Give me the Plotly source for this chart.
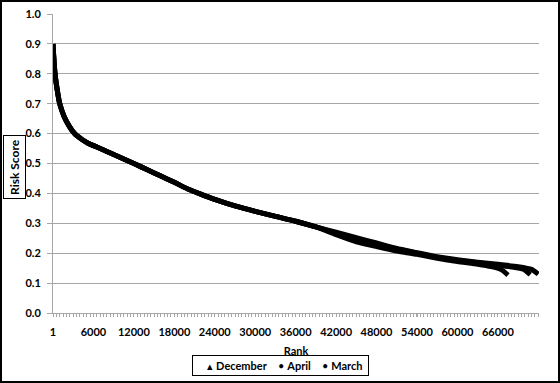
import plotly.graph_objects as go

# ---- data ----
common_rank = [1, 100, 300, 600, 1000, 1600, 2400, 3200, 4200, 5200, 6500, 8000, 10000, 12000,
               14000, 16000, 18000, 20000, 22000, 24000, 27000, 30000, 33000, 36000, 39000]
common_score = [0.90, 0.86, 0.80, 0.75, 0.70, 0.66, 0.625, 0.60, 0.582, 0.568, 0.555, 0.54, 0.52, 0.50,
                0.479, 0.458, 0.437, 0.415, 0.397, 0.38, 0.358, 0.34, 0.323, 0.307, 0.288]

dec_rank = common_rank + [42000, 45000, 48000, 51000, 54000, 57000, 60000, 63000, 65000, 66500, 67500]
dec_score = common_score + [0.262, 0.238, 0.222, 0.207, 0.196, 0.183, 0.172, 0.163, 0.155, 0.145, 0.127]

apr_rank = common_rank + [42000, 45000, 48000, 51000, 54000, 57000, 60000, 63000, 66000, 68000, 69800, 70800]
apr_score = common_score + [0.268, 0.248, 0.232, 0.214, 0.200, 0.186, 0.176, 0.168, 0.160, 0.154, 0.146, 0.128]

mar_rank = common_rank + [42000, 45000, 48000, 51000, 54000, 57000, 60000, 63000, 66000, 69000, 71000, 72000]
mar_score = common_score + [0.270, 0.252, 0.234, 0.216, 0.202, 0.188, 0.178, 0.170, 0.163, 0.155, 0.146, 0.130]

series_names = ["December", "April", "March"]
series_glyphs = ["▴", "•", "•"]
series_ranks = [dec_rank, apr_rank, mar_rank]
series_scores = [dec_score, apr_score, mar_score]

x_tickvals = [1, 6000, 12000, 18000, 24000, 30000, 36000, 42000, 48000, 54000, 60000, 66000]
x_ticktext = ["1", "6000", "12000", "18000", "24000", "30000", "36000", "42000", "48000",
              "54000", "60000", "66000"]
y_tickvals = [0.0, 0.1, 0.2, 0.3, 0.4, 0.5, 0.6, 0.7, 0.8, 0.9, 1.0]

FONT = "Lato"
fig = go.Figure()

for name, xs, ys in zip(series_names, series_ranks, series_scores):
    fig.add_trace(go.Scatter(
        x=xs, y=ys, mode="lines", line=dict(color="black", width=5, shape="spline", smoothing=0.5),
        name=name, showlegend=False))

# legend box (compact, Excel-like)
legend_text = ("&nbsp;&nbsp;&nbsp;&nbsp;"
               + "&nbsp;&nbsp;&nbsp;&nbsp;".join(f"{g} <b>{n}</b>" for g, n in zip(series_glyphs, series_names))
               + "&nbsp;")

# plot area in pixels: x 53..539, y 14..313
PW, PH = 486, 299
def px(x):
    return (x - 53) / PW
def py(y):
    return (313 - y) / PH

grid = "#a6a6a6"
fig.update_layout(
    width=560, height=383,
    margin=dict(l=53, r=21, t=14, b=70, autoexpand=False),
    paper_bgcolor="white", plot_bgcolor="white",
    font=dict(family=FONT, size=11, color="black"),
    showlegend=False,
    xaxis=dict(range=[1, 72100], tickvals=x_tickvals, ticktext=x_ticktext, automargin=False,
               showgrid=False, zeroline=False, showline=True, linecolor=grid, linewidth=1,
               ticks="outside", ticklen=3, tickcolor=grid,
               minor=dict(dtick=500, tick0=1, ticks="outside", ticklen=3, tickcolor=grid),
               tickfont=dict(family=FONT, size=11, weight="bold"), ticklabelstandoff=6,
               title=dict(text="Rank", font=dict(family=FONT, size=11, weight="bold"), standoff=10)),
    yaxis=dict(range=[0, 1.0], tickvals=y_tickvals, tickformat=".1f", automargin=False,
               showgrid=True, gridcolor=grid, gridwidth=1, zeroline=False,
               showline=True, linecolor=grid, linewidth=1,
               ticks="outside", ticklen=5, tickcolor=grid,
               tickfont=dict(family=FONT, size=11, weight="bold"), ticklabelstandoff=4),
    annotations=[
        dict(text="<b>Risk Score</b>", textangle=-90, xref="paper", yref="paper",
             x=px(14), y=py(167), xanchor="center", yanchor="middle",
             showarrow=False, font=dict(family=FONT, size=12, color="black"),
             bordercolor="black", borderwidth=1, borderpad=3, bgcolor="white"),
        dict(text=legend_text, xref="paper", yref="paper",
             x=px(280), y=py(365.5), xanchor="center", yanchor="middle",
             showarrow=False, font=dict(family=FONT, size=11, color="black"),
             bordercolor="black", borderwidth=1, borderpad=3, bgcolor="white"),
    ],
    shapes=[dict(type="rect", xref="paper", yref="paper",
                 x0=px(1), x1=px(559), y0=py(382), y1=py(1),
                 line=dict(color="black", width=2), fillcolor="rgba(0,0,0,0)", layer="above")],
)

fig.write_html("out.html")
